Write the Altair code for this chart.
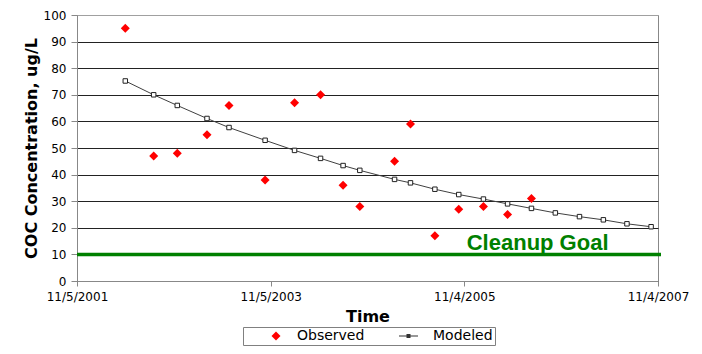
import altair as alt
import pandas as pd

# ---- data ----
dates = ["2002-05-06", "2002-08-21", "2002-11-18", "2003-03-10", "2003-06-01",
         "2003-10-15", "2004-02-03", "2004-05-11", "2004-08-04", "2004-10-06",
         "2005-02-14", "2005-04-15", "2005-07-16", "2005-10-14", "2006-01-15",
         "2006-04-16", "2006-07-15", "2006-10-13", "2007-01-12", "2007-04-12",
         "2007-07-10", "2007-10-09"]
observed = [95, 47, 48, 55, 66, 38, 67, 70, 36, 28, 45, 59, 17, 27, 28, 25, 31]
modeled = [75.2, 70.0, 66.0, 61.1, 57.7, 52.9, 49.1, 46.1, 43.4, 41.6, 38.2,
           36.9, 34.5, 32.5, 30.8, 29.0, 27.3, 25.6, 24.2, 23.0, 21.5, 20.4]
series_names = ["Observed", "Modeled"]
x_ticks = ["2001-11-05", "2003-11-05", "2005-11-04", "2007-11-04"]
y_ticks = list(range(0, 101, 10))
cleanup_goal = 10
goal_label = "Cleanup Goal"

# ---- tables ----
obs_df = pd.DataFrame({"date": dates[:len(observed)], "value": observed,
                       "series": series_names[0]})
mod_df = pd.DataFrame({"date": dates, "value": modeled, "series": series_names[1]})
goal_df = pd.DataFrame({"value": [cleanup_goal]})
label_df = pd.DataFrame({"date": ["2005-11-13"], "value": [11.6], "label": [goal_label]})

x_ms = [int(pd.Timestamp(d, tz="UTC").value // 10**6) for d in x_ticks]

LABEL_FONT = "DejaVu Sans"

x_scale = alt.Scale(type="utc", domain=[x_ms[0], x_ms[-1]], nice=False)
y_scale = alt.Scale(domain=[0, 100], nice=False, zero=True)

x_axis = alt.Axis(values=x_ms, labelExpr="utcFormat(datum.value, '%-m/%-d/%Y')",
                  title="Time", grid=False, tickSize=5, tickColor="#888888",
                  domainColor="#888888", labelFont=LABEL_FONT, labelFontSize=12,
                  labelColor="black", labelPadding=5, labelFlush=False,
                  labelOverlap=False, titleFont=LABEL_FONT, titleFontSize=16,
                  titleFontWeight="bold", titleColor="black", titlePadding=6)
y_axis = alt.Axis(values=y_ticks, title="COC Concentration, ug/L", grid=True,
                  gridColor={"condition": {"test": "datum.value >= 100", "value": "#a0a0a0"},
                             "value": "#222222"},
                  gridWidth=1, tickSize=6, tickColor="#888888", domainColor="#888888",
                  labelFont=LABEL_FONT, labelFontSize=12, labelColor="black",
                  labelPadding=5, titleFont=LABEL_FONT, titleFontSize=16,
                  titleFontWeight="bold", titleColor="black", titlePadding=4)

X = alt.X("date:T", scale=x_scale, axis=x_axis)
Y = alt.Y("value:Q", scale=y_scale, axis=y_axis)

diamond_path = "M-0.9,0L0,-0.9L0.9,0L0,0.9Z"
modeled_path = "M-2.6,-0.1H1.2V0.1H-2.6ZM-1.1,-0.4H-0.3V0.4H-1.1Z"

legend = alt.Legend(title=" ", titleOrient="left", titleFontSize=8, titlePadding=24,
                    orient="none", legendX=166, legendY=312, direction="horizontal",
                    strokeColor="#808080", fillColor="white", padding=2,
                    labelFont=LABEL_FONT, labelFontSize=14, labelColor="black",
                    labelOffset=14, columnPadding=34, symbolSize=100,
                    symbolStrokeWidth=0)

goal_rule = alt.Chart(goal_df).mark_rule(color="#008000", strokeWidth=3.5).encode(
    y=Y, x=alt.value(0), x2=alt.value(584))

goal_text = alt.Chart(label_df).mark_text(
    align="left", baseline="alphabetic", font="Liberation Sans", fontSize=22,
    fontWeight="bold", color="#008000").encode(x=X, y=Y, text="label:N")

mod_line = alt.Chart(mod_df).mark_line(color="#404040", strokeWidth=1).encode(x=X, y=Y)
mod_pts = alt.Chart(mod_df).mark_point(shape="square", size=20, filled=True,
                                       fill="white", stroke="#222222",
                                       strokeWidth=1, opacity=1).encode(x=X, y=Y)

obs_pts = alt.Chart(obs_df).mark_point(filled=True, size=100, opacity=1).encode(
    x=X, y=Y,
    color=alt.Color("series:N", scale=alt.Scale(domain=series_names,
                                                range=["#ff0000", "#333333"]),
                    legend=legend),
    shape=alt.Shape("series:N", scale=alt.Scale(domain=series_names,
                                                range=[diamond_path, modeled_path]),
                    legend=legend))

chart = alt.layer(mod_line, mod_pts, goal_rule, goal_text, obs_pts).properties(
    width=581, height=266,
    padding={"left": 69, "top": 7, "right": 32, "bottom": 65},
    autosize=alt.AutoSizeParams(type="none"),
    background="white",
).configure_view(stroke="#888888", strokeWidth=1)

chart.save("out.html", embed_options={"renderer": "svg", "actions": False})
